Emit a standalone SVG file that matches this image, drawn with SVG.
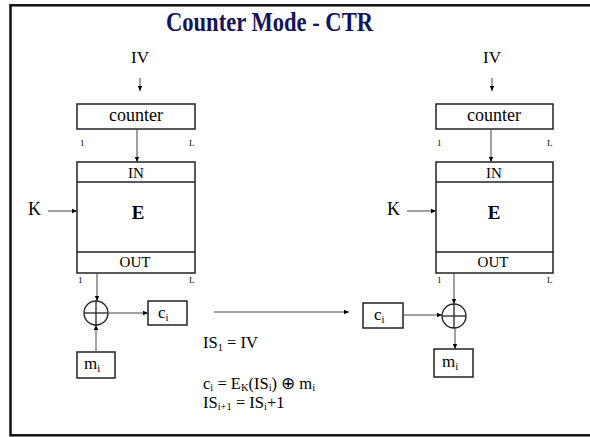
<svg xmlns="http://www.w3.org/2000/svg" width="590" height="437" viewBox="0 0 590 437">
<defs>
<marker id="ah" markerWidth="6" markerHeight="6" refX="5" refY="3" orient="auto" markerUnits="userSpaceOnUse">
<path d="M0,0.8 L5,3 L0,5.2 z" fill="#000"/>
</marker>
<style>
text{font-family:"Liberation Serif","Times New Roman",serif;fill:#000}
.box{fill:#fff;stroke:#222;stroke-width:1.5}
.ln{stroke:#222;stroke-width:1.3}
.arr{stroke:#444;stroke-width:1;fill:none;marker-end:url(#ah)}
.lbl{font-size:17px}
.sm{font-size:9px}
.bx{font-size:15px}
.eq{font-size:16.5px}
.sb{font-size:10.5px}
</style>
</defs>
<rect x="0" y="0" width="590" height="437" fill="#fff"/>
<rect x="10.5" y="5.3" width="590" height="430" fill="none" stroke="#111" stroke-width="2.5"/>
<text x="269.5" y="31" text-anchor="middle" font-size="27" font-weight="bold" style="fill:#14145e" textLength="207" lengthAdjust="spacingAndGlyphs">Counter Mode - CTR</text>

<g id="iv-left"><text class="lbl" x="140" y="63" text-anchor="middle">IV</text></g>
<g id="counter-left">
<rect class="box" x="77" y="104" width="118" height="25"/>
<text x="136" y="121" text-anchor="middle" font-size="18">counter</text>
<text class="sm" x="80" y="146">1</text>
<text class="sm" x="189" y="146">L</text>
</g>
<g id="E-left">
<rect class="box" x="77" y="162" width="118" height="111"/>
<line class="ln" x1="77" y1="182" x2="195" y2="182"/>
<line class="ln" x1="77" y1="252" x2="195" y2="252"/>
<text class="bx" x="136" y="178" text-anchor="middle">IN</text>
<text x="138" y="219" text-anchor="middle" font-size="19" font-weight="bold">E</text>
<text class="bx" x="135" y="267" text-anchor="middle">OUT</text>
<text class="sm" x="78" y="283">1</text>
<text class="sm" x="189" y="283">L</text>
</g>
<g id="K-left"><text x="28" y="215" font-size="18">K</text></g>
<g id="xor-left">
<circle cx="96" cy="313" r="12" fill="#fff" stroke="#222" stroke-width="1.3"/>
<line class="ln" x1="84" y1="313" x2="108" y2="313"/>
<line class="ln" x1="96" y1="301" x2="96" y2="325"/>
</g>
<g id="ci-left">
<rect class="box" x="148" y="301" width="39" height="24"/>
<text class="lbl" x="158" y="318">c<tspan font-size="11" dy="3">i</tspan></text>
</g>
<g id="mi-left">
<rect class="box" x="77" y="352" width="38" height="26"/>
<text class="lbl" x="84" y="369">m<tspan font-size="11" dy="3">i</tspan></text>
</g>

<g id="iv-right"><text class="lbl" x="492" y="63" text-anchor="middle">IV</text></g>
<g id="counter-right">
<rect class="box" x="436" y="104" width="117" height="25"/>
<text x="494" y="121" text-anchor="middle" font-size="18">counter</text>
<text class="sm" x="437" y="146">1</text>
<text class="sm" x="547" y="146">L</text>
</g>
<g id="E-right">
<rect class="box" x="436" y="162" width="117" height="111"/>
<line class="ln" x1="436" y1="182" x2="553" y2="182"/>
<line class="ln" x1="436" y1="252" x2="553" y2="252"/>
<text class="bx" x="494" y="178" text-anchor="middle">IN</text>
<text x="494" y="219" text-anchor="middle" font-size="19" font-weight="bold">E</text>
<text class="bx" x="493" y="267" text-anchor="middle">OUT</text>
<text class="sm" x="437" y="283">1</text>
<text class="sm" x="547" y="283">L</text>
</g>
<g id="K-right"><text x="387" y="215" font-size="18">K</text></g>
<g id="ci-right">
<rect class="box" x="363" y="303" width="40" height="25"/>
<text class="lbl" x="374" y="320">c<tspan font-size="11" dy="3">i</tspan></text>
</g>
<g id="xor-right">
<circle cx="454" cy="316" r="12" fill="#fff" stroke="#222" stroke-width="1.3"/>
<line class="ln" x1="442" y1="316" x2="466" y2="316"/>
<line class="ln" x1="454" y1="304" x2="454" y2="328"/>
</g>
<g id="mi-right">
<rect class="box" x="434" y="349" width="39" height="28"/>
<text class="lbl" x="442" y="367">m<tspan font-size="11" dy="3">i</tspan></text>
</g>

<g id="equations">
<text class="eq" x="203" y="348">IS<tspan class="sb" dy="2.5">1</tspan><tspan dy="-2.5"> = IV</tspan></text>
<text class="eq" x="203" y="389">c<tspan class="sb" dy="1.5">i</tspan><tspan dy="-1.5"> = E</tspan><tspan class="sb" dy="1.5">K</tspan><tspan dy="-1.5">(IS</tspan><tspan class="sb" dy="1.5">i</tspan><tspan dy="-1.5">) ⊕ m</tspan><tspan class="sb" dy="1.5">i</tspan></text>
<text class="eq" x="203" y="408">IS<tspan class="sb" dy="1.5">i+1</tspan><tspan dy="-1.5"> = IS</tspan><tspan class="sb" dy="1.5">i</tspan><tspan dy="-1.5">+1</tspan></text>
</g>

<g id="connectors">
<line class="arr" x1="140" y1="78" x2="140" y2="91"/>
<line class="arr" x1="137" y1="129" x2="137" y2="162"/>
<line class="arr" x1="48" y1="211" x2="77" y2="211"/>
<line class="arr" x1="97" y1="273" x2="97" y2="301"/>
<line class="arr" x1="108" y1="313" x2="148" y2="313"/>
<line class="arr" x1="96" y1="352" x2="96" y2="325"/>
<line class="arr" x1="214" y1="312" x2="349" y2="312"/>
<line class="arr" x1="492" y1="78" x2="492" y2="91"/>
<line class="arr" x1="491" y1="129" x2="491" y2="162"/>
<line class="arr" x1="407" y1="211" x2="436" y2="211"/>
<line class="arr" x1="454" y1="273" x2="454" y2="304"/>
<line class="arr" x1="403" y1="315" x2="442" y2="315"/>
<line class="arr" x1="455" y1="328" x2="455" y2="349"/>
</g>
</svg>
